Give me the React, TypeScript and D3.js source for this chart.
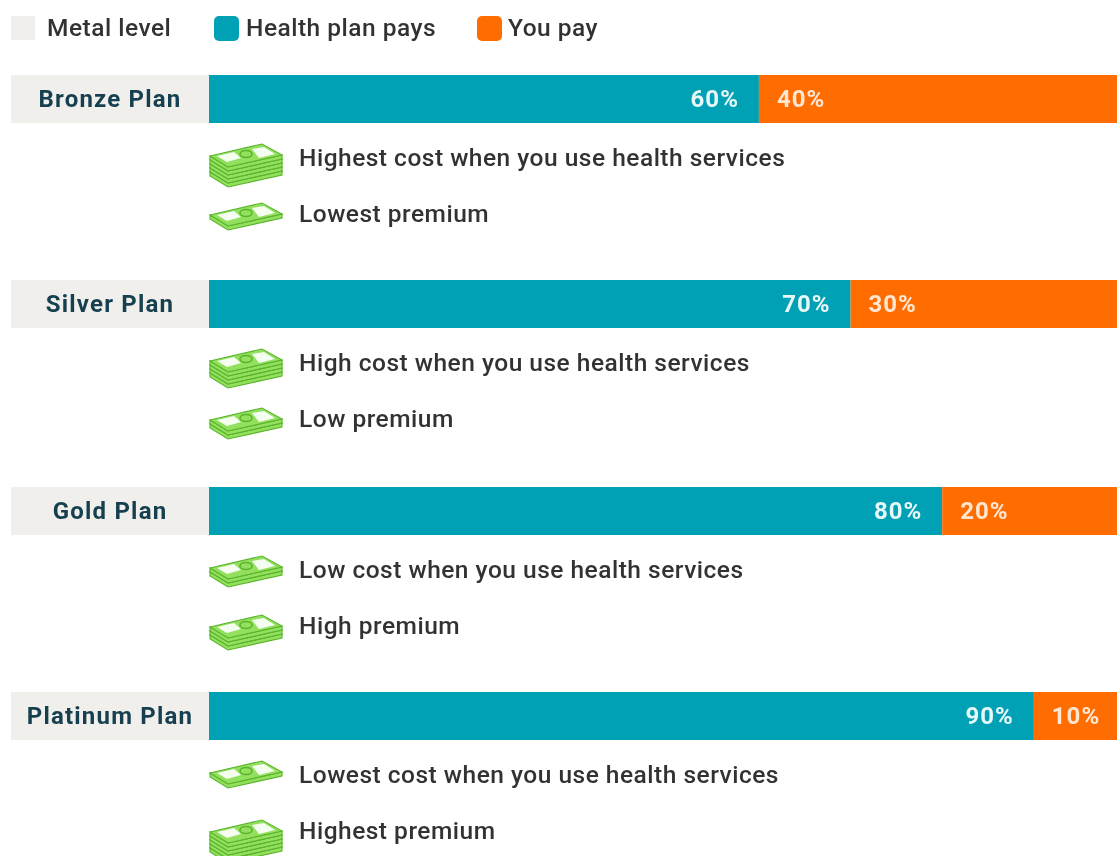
import React from "react";
import * as d3 from "d3";

const plans = ["Bronze Plan", "Silver Plan", "Gold Plan", "Platinum Plan"];
const planPays = [60, 70, 80, 90];
const youPay = [40, 30, 20, 10];
const costLabels = [
  "Highest cost when you use health services",
  "High cost when you use health services",
  "Low cost when you use health services",
  "Lowest cost when you use health services",
];
const premiumLabels = ["Lowest premium", "Low premium", "High premium", "Highest premium"];
const costStacks = [5, 4, 2, 1];
const premiumStacks = [1, 2, 3, 5];
const legendItems = ["Metal level", "Health plan pays", "You pay"];

const TEAL = "#00a1b5";
const ORANGE = "#ff6c00";
const GREY = "#f1efeb";
const GREEN = "#93e05f";
const DARK_GREEN = "#5ab52c";
const FONT = "Roboto, sans-serif";

const x = d3.scaleLinear().domain([0, 100]).range([209, 1125.5]);
const y = d3.scaleBand().domain(plans).range([75, 75 + 206 * 4]).paddingInner(0);
const BAR_H = 48;
const BODY_SPACING = 0.5;

function Money({ top, layers }: { top: number; layers: number }) {
  const ox = 209;
  const face = (dy: number) =>
    `M${ox + 1},${top + 12 + dy}L${ox + 53},${top + dy}L${ox + 73},${top + 11 + dy}L${ox + 19},${top + 23 + dy}Z`;
  const levels = d3.range(layers - 1, -1, -1);
  return (
    <g>
      {levels.map((l) => (
        <g key={l}>
          <path d={`M${ox + 1},${top + 12 + l * 4}v4L${ox + 19},${top + 27 + l * 4}L${ox + 73},${top + 15 + l * 4}v-4L${ox + 19},${top + 23 + l * 4}Z`} fill={GREEN} stroke={DARK_GREEN} strokeWidth={1.1} />
          <path d={face(l * 4)} fill={GREEN} stroke={DARK_GREEN} strokeWidth={1.1} />
        </g>
      ))}
      <path d={`M${ox + 8},${top + 12}L${ox + 25},${top + 8}L${ox + 32},${top + 14}L${ox + 18},${top + 18}Z`} fill="#f4fdf0" />
      <path d={`M${ox + 43},${top + 5}L${ox + 55},${top + 3}L${ox + 66},${top + 10}L${ox + 50},${top + 14}Z`} fill="#f4fdf0" />
      <ellipse cx={ox + 37} cy={top + 10} rx={6} ry={3.5} fill="none" stroke="#5ab52c" strokeWidth={1.6} />
    </g>
  );
}

export default function App() {
  return (
    <svg
      width={1117}
      height={856}
      viewBox="0 0 1117 856"
      style={{ position: "absolute", left: 0, top: 0, background: "#fff", fontFamily: FONT }}
    >
      <defs>
        <filter id="soft" x="-5%" y="-5%" width="110%" height="110%">
          <feGaussianBlur stdDeviation="0.45" />
        </filter>
      </defs>
      <g filter="url(#soft)">
        <rect x={11} y={16} width={24} height={24} fill={GREY} />
        <rect x={214} y={16} width={25} height={25} rx={5} fill={TEAL} />
        <rect x={477} y={16} width={25} height={25} rx={5} fill={ORANGE} />
        {legendItems.map((t, i) => (
          <text key={t} x={[47, 246, 508][i]} y={36} fontSize={24.5} fontWeight={500} letterSpacing={BODY_SPACING} fill="#333">
            {t}
          </text>
        ))}
        {plans.map((p, i) => {
          const b = y(p)! - (i === 0 ? 0 : [0, 1, 0, 1][i]);
          const split = x(planPays[i]);
          return (
            <g key={p}>
              <rect x={11} y={b} width={198} height={BAR_H} fill={GREY} />
              <text x={110} y={b + 32} textAnchor="middle" fontSize={24} fontWeight={700} letterSpacing={1.2} fill="#123f4f">
                {p}
              </text>
              <rect x={x(0)} y={b} width={split - x(0)} height={BAR_H} fill={TEAL} />
              <rect x={split} y={b} width={x(planPays[i] + youPay[i]) - split} height={BAR_H} fill={ORANGE} />
              <text x={split - 20} y={b + 32} textAnchor="end" fontSize={24} fontWeight={700} letterSpacing={1} fill="#e8f7f8">
                {planPays[i]}%
              </text>
              <text x={split + 18} y={b + 32} fontSize={24} fontWeight={700} letterSpacing={1} fill="#ffe6d2">
                {youPay[i]}%
              </text>
              <Money top={b + 69} layers={costStacks[i]} />
              <Money top={b + 128} layers={premiumStacks[i]} />
              <text x={299} y={b + 91} fontSize={24.5} fontWeight={500} letterSpacing={BODY_SPACING} fill="#333">
                {costLabels[i]}
              </text>
              <text x={299} y={b + 147} fontSize={24.5} fontWeight={500} letterSpacing={BODY_SPACING} fill="#333">
                {premiumLabels[i]}
              </text>
            </g>
          );
        })}
      </g>
    </svg>
  );
}
